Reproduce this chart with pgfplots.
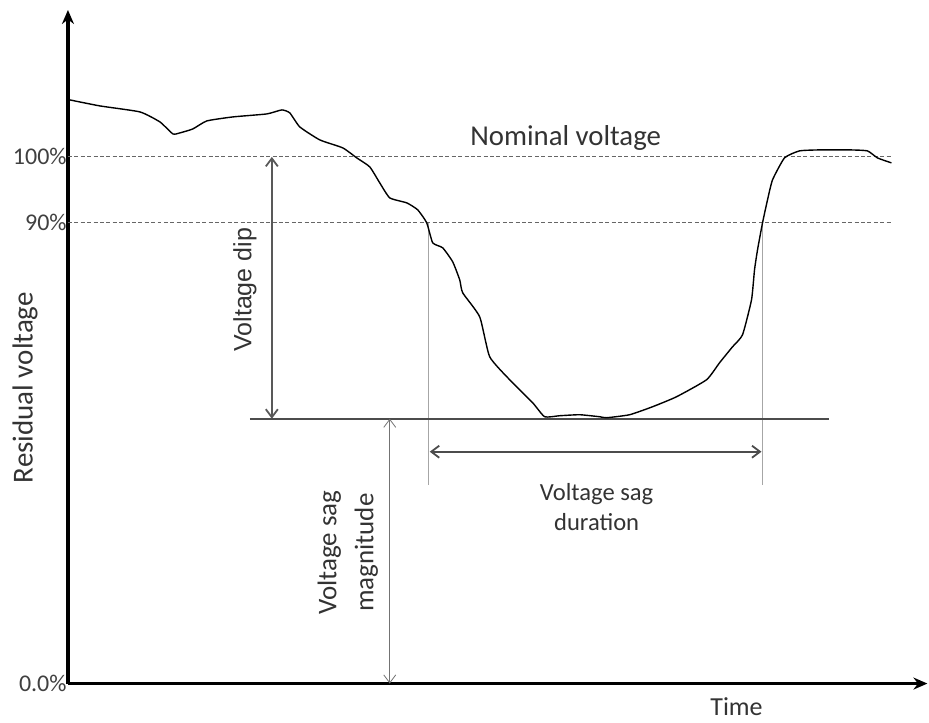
\documentclass[border=0pt]{standalone}
\usepackage{pgfplots}
\pgfplotsset{compat=1.18}
\usepackage{fontspec}
\setmainfont{Carlito}
\newfontfamily\arialf{Liberation Sans}
\usetikzlibrary{arrows.meta}
\begin{document}
\begin{tikzpicture}
\begin{axis}[
  x=0.5pt, y=0.5pt,
  xmin=68, xmax=928, ymin=34, ymax=708,
  axis lines=left,
  axis line style={line width=1.6pt, black},
  x axis line style={-{Stealth[length=7pt,width=6pt]}},
  y axis line style={-{Stealth[length=7pt,width=6pt]}},
  xtick=\empty,
  ytick={34,495,561},
  yticklabels={0.0\%,90\%,100\%},
  major tick length=0pt,
  yticklabel style={font=\fontsize{12}{13}\selectfont, color=black!75, inner sep=0.5pt},
  /pgf/number format/assume math mode=true,
  clip=false,
]
% bounding region
\path (axis cs:0,0) rectangle (axis cs:929,718);
% dashed reference lines
\addplot[black!60, dashed, dash pattern=on 2pt off 1.2pt, line width=0.4pt] coordinates {(68,561) (892,561)};
\addplot[black!60, dashed, dash pattern=on 2pt off 1.2pt, line width=0.4pt] coordinates {(68,495) (892,495)};
% vertical thin lines
\addplot[black!35, line width=0.4pt] coordinates {(429,495) (429,233)};
\addplot[black!35, line width=0.4pt] coordinates {(763,495) (763,233)};
% sag line
\addplot[black!70, line width=0.8pt] coordinates {(250,299) (830,299)};
% voltage curve
\addplot[black, line width=0.7pt, smooth, tension=0.3] table {
x y
70 618
100 612
140 606
160 596
173 584
180 585
193 589
207 597
233 601
267 604
282 608
290 605
300 591
320 578
343 570
357 560
370 551
380 535
390 520
407 515
418 508
427 495
433 475
443 470
453 456
460 438
463 425
480 401
490 361
510 338
533 315
545 301
560 302
580 303
600 301
607 300
630 303
653 311
677 321
707 338
720 355
733 371
743 383
752 418
755 448
758 468
763 495
768 518
773 538
785 560
800 567
820 568
850 568
868 567
878 560
892 555
};
% arrows
\addplot[black!65, line width=0.9pt, {Straight Barb[length=4pt,width=6pt]}-{Straight Barb[length=4pt,width=6pt]}] coordinates {(272,561) (272,299)};
\addplot[black!70, line width=0.9pt, {Straight Barb[length=4pt,width=6pt]}-{Straight Barb[length=4pt,width=6pt]}] coordinates {(430,266) (762,266)};
\addplot[black!55, line width=0.4pt, {Straight Barb[length=4pt,width=6pt]}-{Straight Barb[length=4pt,width=6pt]}] coordinates {(390,299) (390,34)};
% texts
\node[font=\fontsize{14.4}{16}\selectfont, text=black!80] at (axis cs:566,580) {Nominal voltage};
\node[font=\arialf\fontsize{12.5}{14}\selectfont, text=black!80, rotate=90] at (axis cs:245,428) {Voltage dip};
\node[font=\fontsize{13.5}{18.5}\selectfont, text=black!80, rotate=90, align=center] at (axis cs:348,165) {Voltage sag\\magnitude};
\node[font=\fontsize{12.3}{15}\selectfont, text=black!80, align=center] at (axis cs:597,211) {Voltage sag\\duration};
\node[font=\fontsize{14.5}{16}\selectfont, text=black!80, rotate=90] at (axis cs:25,330) {Residual voltage};
\node[font=\fontsize{13}{15}\selectfont, text=black!80] at (axis cs:737,11) {Time};
\end{axis}
\end{tikzpicture}
\end{document}
